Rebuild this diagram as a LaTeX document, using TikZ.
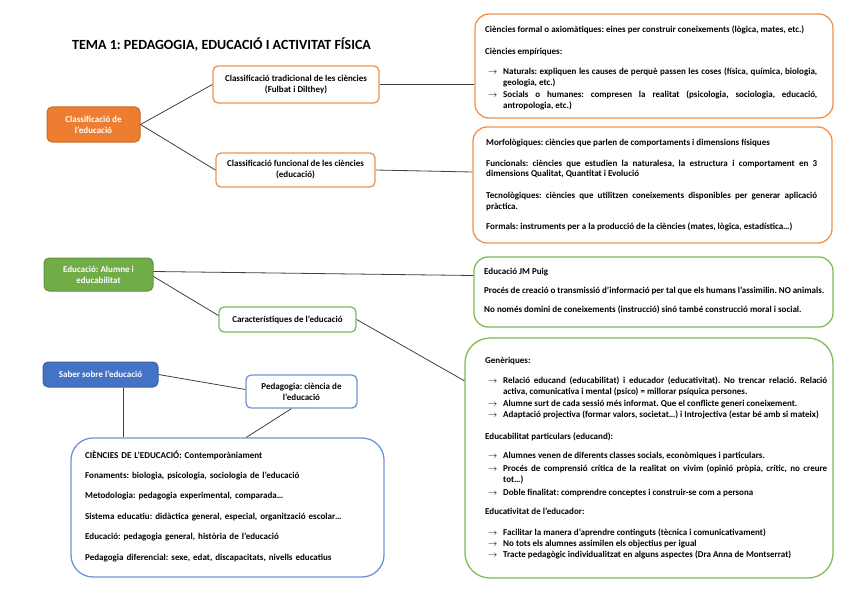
\documentclass[tikz,border=0pt]{standalone}
\usepackage{fontspec}
\setmainfont{Carlito}
\usetikzlibrary{calc}
\definecolor{orfill}{HTML}{ED7D31}
\definecolor{ordraw}{HTML}{F0924F}
\definecolor{grfill}{HTML}{70AD47}
\definecolor{grdraw}{HTML}{7FBB56}
\definecolor{blfill}{HTML}{4472C4}
\definecolor{bldraw}{HTML}{6E94D8}
\definecolor{conncol}{HTML}{404040}
\frenchspacing
\newcommand{\pgp}[1]{\par\vspace{#1}}
\newcommand{\bitem}[1]{\par\hangindent=18pt\hangafter=1\noindent\makebox[18pt][l]{\hspace{3pt}{\fontsize{9}{9}\selectfont$\rightarrow$}}#1\par}
\begin{document}
\begin{tikzpicture}[x=1pt,y=-1pt,
  every node/.style={font=\fontsize{9}{11}\selectfont\bfseries, inner sep=0pt},
  filled/.style={rounded corners=5pt, line width=1pt, text=white, align=center},
  outl/.style={rounded corners=5pt, line width=1.3pt, fill=white, align=center},
  bigbox/.style={line width=1.3pt, fill=white},
  txt/.style={align=justify, anchor=base west, execute at begin node={\emergencystretch=6pt\tolerance=9000\frenchspacing}},
  conn/.style={draw=conncol, line width=0.8pt}]
\useasboundingbox (0,0) rectangle (848,599);

\node[anchor=base west, font=\fontsize{14}{16}\selectfont\bfseries] (title) at (72,50) {TEMA 1: PEDAGOGIA, EDUCACIÓ I ACTIVITAT FÍSICA};

% nodes
\node[filled, fill=orfill, draw=orfill!85!black, minimum width=93pt, minimum height=35pt] (n1) at (93.5,124.5) {Classificació de\\l'educació};
\node[outl, draw=ordraw, minimum width=166pt, minimum height=37pt] (n2) at (296,84.5) {Classificació tradicional de les ciències\\(Fulbat i Dilthey)};
\node[outl, draw=ordraw, minimum width=159pt, minimum height=34pt] (n3) at (295.5,170) {Classificació funcional de les ciències\\(educació)};
\node[bigbox, draw=ordraw, rounded corners=14pt, minimum width=358pt, minimum height=104pt] (b4) at (654,66) {};
\node[bigbox, draw=ordraw, rounded corners=14pt, minimum width=359pt, minimum height=116pt] (b5) at (652.5,185) {};

\node[filled, fill=grfill, draw=grfill!85!black, minimum width=109pt, minimum height=33pt] (n6) at (98.5,274.5) {Educació: Alumne i\\educabilitat};
\node[outl, draw=grdraw, minimum width=137pt, minimum height=25pt] (n7) at (287.5,319.5) {Característiques de l'educació};
\node[bigbox, draw=grdraw, rounded corners=14pt, minimum width=359pt, minimum height=70pt] (b8) at (653.5,292) {};
\node[bigbox, draw=grdraw, rounded corners=25pt, minimum width=368pt, minimum height=240pt] (b9) at (649,458) {};

\node[filled, fill=blfill, draw=blfill!85!black, minimum width=115pt, minimum height=25pt] (n10) at (100.5,374.5) {Saber sobre l'educació};
\node[outl, draw=bldraw, minimum width=111pt, minimum height=33pt] (n11) at (301.5,391.5) {Pedagogia: ciència de\\l'educació};
\node[bigbox, draw=bldraw, rounded corners=22pt, minimum width=313pt, minimum height=139pt] (b12) at (227.5,507.5) {};

% texts
\node[txt, text width=332pt] (t4) at (485,33) {Ciències formal o axiomàtiques: eines per construir coneixements (lògica, mates, etc.)\pgp{11pt}
Ciències empíriques:\pgp{9pt}
\bitem{Naturals: expliquen les causes de perquè passen les coses (física, química, biologia,\linebreak geologia, etc.)}\vspace{1pt}
\bitem{Socials o humanes: compresen la realitat (psicologia, sociologia, educació,\linebreak antropologia, etc.)}};

\node[txt, text width=331pt] (t5) at (486,145) {Morfològiques: ciències que parlen de comportaments i dimensions físiques\pgp{10pt}
Funcionals: ciències que estudien la naturalesa, la estructura i comportament en 3\linebreak dimensions Qualitat, Quantitat i Evolució\pgp{10pt}
Tecnològiques: ciències que utilitzen coneixements disponibles per generar aplicació\linebreak pràctica.\pgp{10pt}
Formals: instruments per a la producció de la ciències (mates, lògica, estadística…)};

\node[txt, text width=340pt] (t8) at (484,274) {Educació JM Puig\pgp{8pt}
Procés de creació o transmissió d’informació per tal que els humans l'assimilin. NO animals.\pgp{8pt}
No només domini de coneixements (instrucció) sinó també construcció moral i social.};

\node[txt, text width=342pt] (t9) at (485,363) {Genèriques:\pgp{9pt}
\bitem{Relació educand (educabilitat) i educador (educativitat). No trencar relació. Relació\linebreak activa, comunicativa i mental (psico) = millorar psíquica persones.}\vspace{1pt}
\bitem{Alumne surt de cada sessió més informat. Que el conflicte generi coneixement.}
\bitem{Adaptació projectiva (formar valors, societat…) i Introjectiva (estar bé amb si mateix)}\vspace{11pt}
Educabilitat particulars (educand):\pgp{8pt}
\bitem{Alumnes venen de diferents classes socials, econòmiques i particulars.}\vspace{2pt}
\bitem{Procés de comprensió crítica de la realitat on vivim (opinió pròpia, crític, no creure\linebreak tot…)}\vspace{2pt}
\bitem{Doble finalitat: comprendre conceptes i construir-se com a persona}\vspace{8pt}
Educativitat de l'educador:\pgp{10pt}
\bitem{Facilitar la manera d’aprendre continguts (tècnica i comunicativament)}
\bitem{No tots els alumnes assimilen els objectius per igual}
\bitem{Tracte pedagògic individualitzat en alguns aspectes (Dra Anna de Montserrat)}};

\node[txt, text width=295pt, align=left] (t12) at (85,458) {CIÈNCIES DE L’EDUCACIÓ: Contemporàniament\pgp{9.4pt}
Fonaments: biologia, psicologia, sociologia de l'educació\pgp{9.4pt}
Metodologia: pedagogia experimental, comparada…\pgp{9.4pt}
Sistema educatiu: didàctica general, especial, organització escolar…\pgp{9.4pt}
Educació: pedagogia general, història de l'educació\pgp{9.4pt}
Pedagogia diferencial: sexe, edat, discapacitats, nivells educatius};

% connectors
\draw[conn] (n1.east) -- (n2.west);
\draw[conn] (n1.east) -- (n3.west);
\draw[conn] (n2.east) -- (b4.west |- n2.east);
\draw[conn] (n3.east) -- ($(b5.west |- n3.east)+(0,2)$);
\draw[conn] ($(n6.east)+(0,-3)$) -- ($(b8.west |- n6.east)+(0,1)$);
\draw[conn] ($(n6.east)+(0,2)$) -- ($(n7.west)+(0,-4)$);
\draw[conn] (n7.east) -- ($(b9.north west)!0.18!(b9.south west)$);
\draw[conn] (n10.east) -- ($(n11.west)+(0,-2)$);
\coordinate (c10) at ($(n10.south west)!0.7!(n10.south east)$);
\draw[conn] (c10) -- (c10 |- b12.north);
\draw[conn] ($(n11.south west)!0.41!(n11.south east)$) -- ($(b12.north west)!0.56!(b12.north east)$);
\end{tikzpicture}
\end{document}
